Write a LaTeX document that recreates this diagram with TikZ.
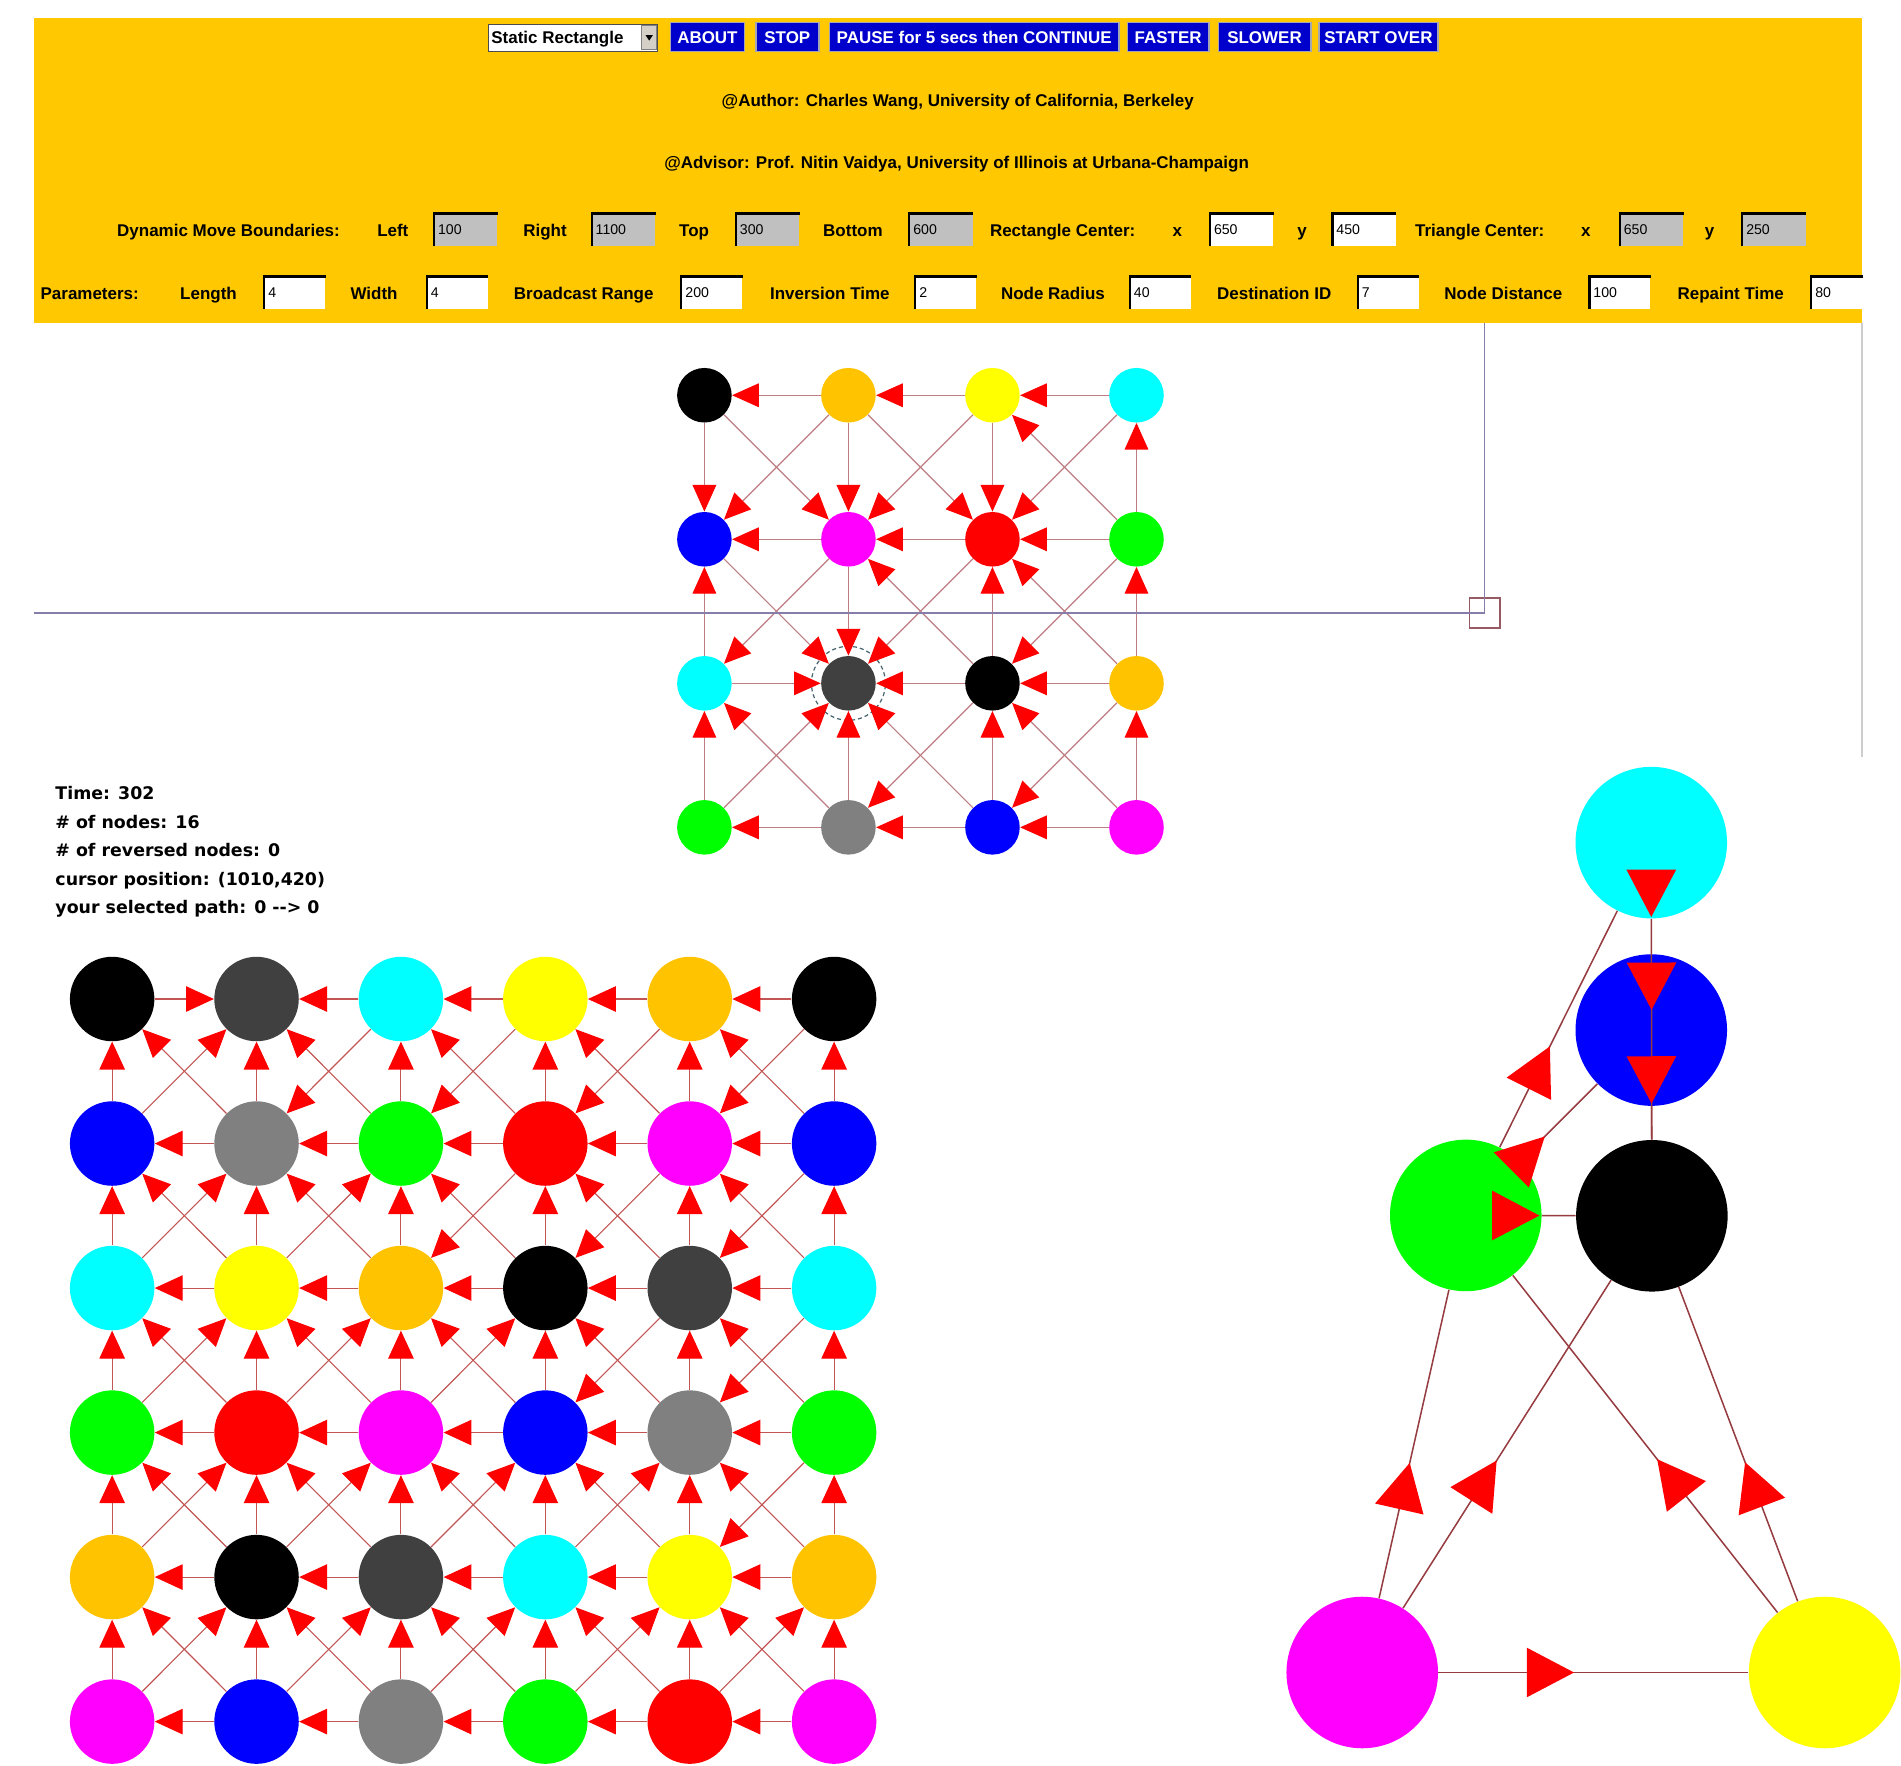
\documentclass[tikz,border=0pt]{standalone}
\usepackage{fontspec}
\setmainfont{Liberation Sans}
\newfontfamily\dvsans{DejaVu Sans}
\usetikzlibrary{arrows.meta,decorations.markings}
\definecolor{hdrbg}{RGB}{255,200,0}
\definecolor{nblack}{RGB}{0,0,0}
\definecolor{norange}{RGB}{255,195,0}
\definecolor{nyellow}{RGB}{255,255,0}
\definecolor{ncyan}{RGB}{0,255,255}
\definecolor{nblue}{RGB}{0,0,255}
\definecolor{nmagenta}{RGB}{255,0,255}
\definecolor{nred}{RGB}{255,0,0}
\definecolor{ngreen}{RGB}{0,255,0}
\definecolor{ndgray}{RGB}{64,64,64}
\definecolor{ngray}{RGB}{128,128,128}
\definecolor{btnblue}{RGB}{0,0,205}
\definecolor{btnedge}{RGB}{165,165,180}
\definecolor{fieldgray}{RGB}{192,192,192}
\definecolor{uedge}{RGB}{190,125,130}
\definecolor{ledge}{RGB}{195,85,85}
\definecolor{tedge}{RGB}{150,60,65}
\definecolor{crossc}{RGB}{135,125,170}
\definecolor{sqc}{RGB}{150,90,100}
\definecolor{borderc}{RGB}{205,205,205}
\definecolor{ringc}{RGB}{70,100,110}
\definecolor{ddarrbg}{RGB}{212,208,200}
\newcommand{\fld}[6]{%
  \node[fieldbox, fill=#4, text width=#6] (#1) at (#2,#3) {#5};
  \draw[fieldline] (#1.south west) -- (#1.north west) -- (#1.north east);
}
\begin{document}
\begin{tikzpicture}[x=0.6pt,y=-0.6pt,
  hfont/.style={font=\fontsize{8.4}{10}\selectfont\bfseries},
  lbl/.style={hfont, inner sep=0pt, text height=6pt, text depth=0pt},
  btn/.style={hfont, text=white, fill=btnblue, draw=btnedge, line width=0.9pt,
    minimum height=14.4pt, inner sep=0pt, text height=6pt, text depth=0pt},
  fieldbox/.style={font=\fontsize{7}{8}\selectfont, inner sep=1.8pt, align=left,
    minimum height=15.8pt, anchor=north west, text height=5pt, text depth=0pt},
  fieldline/.style={black, line width=1.1pt},
  stat/.style={font=\dvsans\bfseries\fontsize{8.6}{10}\selectfont, inner sep=0pt, anchor=base west},
  unode/.style={circle, minimum size=27pt, inner sep=0pt},
  lnode/.style={circle, minimum size=41.8pt, inner sep=0pt},
  tnode/.style={circle, minimum size=75pt, inner sep=0pt},
  uarr/.style={draw=uedge, line width=0.6pt, -{Triangle[length=13.2pt,width=11.7pt,color=red]}},
  larr/.style={draw=ledge, line width=0.55pt, -{Triangle[length=13.8pt,width=12.6pt,color=red]}},
  tarr/.style={draw=tedge, line width=0.75pt, postaction={decorate},
    decoration={markings, mark=at position 0.5 with {\fill[red] (-9.6pt,0pt) -- (-33pt,12.3pt) -- (-33pt,-12.3pt) -- cycle;}}},
  crossline/.style={crossc, line width=0.8pt}
]
\useasboundingbox (0,0) rectangle (1568,1456);
\fill[white] (0,0) rectangle (1568,1456);

% ---------- header ----------
\fill[hdrbg] (28,15) rectangle (1536,266);

\node[draw=black!70, fill=white, minimum width=83.5pt, minimum height=13.2pt, inner sep=0pt] (dd) at (472.4,31) {};
\node[lbl, anchor=west] (ddtext) at (405,31) {Static Rectangle};
\node[fill=ddarrbg, draw=gray, minimum width=7.5pt, minimum height=12pt, inner sep=0pt] (ddarr) at (535.5,31) {};
\fill[black] (532.5,29) -- (538.5,29) -- (535.5,33.5) -- cycle;

\node[btn, minimum width=36.6pt] (bAbout) at (583.5,30.5) {ABOUT};
\node[btn, minimum width=31pt] (bStop) at (649.4,30.5) {STOP};
\node[btn, minimum width=143.3pt] (bPause) at (803.6,30.5) {PAUSE for 5 secs then CONTINUE};
\node[btn, minimum width=40.2pt] (bFaster) at (963.5,30.5) {FASTER};
\node[btn, minimum width=45.6pt] (bSlower) at (1043,30.5) {SLOWER};
\node[btn, minimum width=58.8pt] (bStart) at (1137,30.5) {START OVER};

\node[lbl] (author) at (790,82.5) {@Author: Charles Wang, University of California, Berkeley};
\node[lbl] (advisor) at (789,134) {@Advisor: Prof. Nitin Vaidya, University of Illinois at Urbana-Champaign};

% dynamic move boundaries row
\node[lbl] (lDMB) at (188.5,190) {Dynamic Move Boundaries:};
\node[lbl] (lLeft) at (324,190) {Left};
\node[lbl] (lRight) at (449.5,190) {Right};
\node[lbl] (lTop) at (572.5,190) {Top};
\node[lbl] (lBottom) at (703.5,190) {Bottom};
\node[lbl] (lRC) at (876.5,190) {Rectangle Center:};
\node[lbl] (lRx) at (971,190) {x};
\node[lbl] (lRy) at (1074,190) {y};
\node[lbl] (lTC) at (1220.5,190) {Triangle Center:};
\node[lbl] (lTx) at (1308,190) {x};
\node[lbl] (lTy) at (1410,190) {y};
\fld{fLeft}{358}{176}{fieldgray}{100}{27.6pt}
\fld{fRight}{488}{176}{fieldgray}{1100}{27.6pt}
\fld{fTop}{607}{176}{fieldgray}{300}{27.6pt}
\fld{fBottom}{750}{176}{fieldgray}{600}{27.6pt}
\fld{fRx}{998}{176}{white}{650}{27.6pt}
\fld{fRy}{1099}{176}{white}{450}{27.6pt}
\fld{fTx}{1336}{176}{fieldgray}{650}{27.6pt}
\fld{fTy}{1437}{176}{fieldgray}{250}{27.6pt}

% parameters row
\node[lbl] (lPar) at (74,242) {Parameters:};
\node[lbl] (lLen) at (172,242) {Length};
\node[lbl] (lWid) at (308.5,242) {Width};
\node[lbl] (lBR) at (481.5,242) {Broadcast Range};
\node[lbl] (lIT) at (684.5,242) {Inversion Time};
\node[lbl] (lNR) at (868.5,242) {Node Radius};
\node[lbl] (lDID) at (1051,242) {Destination ID};
\node[lbl] (lND) at (1240,242) {Node Distance};
\node[lbl] (lRT) at (1427.5,242) {Repaint Time};
\fld{fLen}{218}{228}{white}{4}{26.4pt}
\fld{fWid}{352}{228}{white}{4}{26.4pt}
\fld{fBR}{562}{228}{white}{200}{26.4pt}
\fld{fIT}{755}{228}{white}{2}{26.4pt}
\fld{fNR}{932}{228}{white}{40}{26.4pt}
\fld{fDID}{1120}{228}{white}{7}{26.4pt}
\fld{fND}{1311}{228}{white}{100}{26.4pt}
\fld{fRT}{1494}{228}{white}{80}{21.6pt}

% ---------- upper canvas ----------
\coordinate (bordTop) at (1536,266);
\coordinate (bordBot) at (1536,624);
\draw[borderc, line width=1pt] (bordTop) -- (bordBot);

% upper 4x4 grid
\foreach \n/\x/\y/\col in {
  u11/581/326/nblack, u12/699.8/326/norange, u13/818.6/326/nyellow, u14/937.4/326/ncyan,
  u21/581/444.8/nblue, u22/699.8/444.8/nmagenta, u23/818.6/444.8/nred, u24/937.4/444.8/ngreen,
  u31/581/563.6/ncyan, u32/699.8/563.6/ndgray, u33/818.6/563.6/nblack, u34/937.4/563.6/norange,
  u41/581/682.4/ngreen, u42/699.8/682.4/ngray, u43/818.6/682.4/nblue, u44/937.4/682.4/nmagenta}
  {\node[unode, fill=\col] (\n) at (\x,\y) {};}
\node[circle, draw=ringc, dash pattern=on 2pt off 1.5pt, line width=0.6pt, minimum size=36.6pt, inner sep=0pt] (ring) at (u32) {};

\foreach \a/\b in {
  u12/u11, u13/u12, u14/u13, u22/u21, u23/u22, u24/u23, u31/u32, u33/u32, u34/u33, u42/u41, u43/u42, u44/u43,
  u11/u21, u12/u22, u13/u23, u24/u14, u31/u21, u22/u32, u33/u23, u34/u24, u41/u31, u42/u32, u43/u33, u44/u34,
  u11/u22, u12/u23, u24/u13, u21/u32, u33/u22, u34/u23, u42/u31, u43/u32, u44/u33,
  u12/u21, u13/u22, u14/u23, u22/u31, u23/u32, u24/u33, u41/u32, u33/u42, u34/u43}
  {\draw[uarr] (\a) -- (\b);}

% cursor cross
\node[draw=sqc, line width=0.8pt, minimum size=15pt, inner sep=0pt] (cursor) at (1224.5,505.5) {};
\coordinate (hstart) at (28,505.5);
\coordinate (vstart) at (1224.5,266);
\draw[crossline] (hstart) -- (cursor.center);
\draw[crossline] (vstart) -- (cursor.center);

% ---------- status text ----------
\node[stat] (s1) at (45.4,659.5) {Time: 302};
\node[stat] (s2) at (45.4,683) {\# of nodes: 16};
\node[stat] (s3) at (45.4,706.5) {\# of reversed nodes: 0};
\node[stat] (s4) at (45.4,730) {cursor position: (1010,420)};
\node[stat] (s5) at (45.4,753.5) {your selected path: 0 -{}-> 0};

% ---------- lower 6x6 grid ----------
\foreach \col [count=\c] in {nblack,ndgray,ncyan,nyellow,norange,nblack}
  {\node[lnode, fill=\col] (l1\c) at ({92.5+119.1*(\c-1)},824) {};}
\foreach \col [count=\c] in {nblue,ngray,ngreen,nred,nmagenta,nblue}
  {\node[lnode, fill=\col] (l2\c) at ({92.5+119.1*(\c-1)},943.2) {};}
\foreach \col [count=\c] in {ncyan,nyellow,norange,nblack,ndgray,ncyan}
  {\node[lnode, fill=\col] (l3\c) at ({92.5+119.1*(\c-1)},1062.4) {};}
\foreach \col [count=\c] in {ngreen,nred,nmagenta,nblue,ngray,ngreen}
  {\node[lnode, fill=\col] (l4\c) at ({92.5+119.1*(\c-1)},1181.6) {};}
\foreach \col [count=\c] in {norange,nblack,ndgray,ncyan,nyellow,norange}
  {\node[lnode, fill=\col] (l5\c) at ({92.5+119.1*(\c-1)},1300.8) {};}
\foreach \col [count=\c] in {nmagenta,nblue,ngray,ngreen,nred,nmagenta}
  {\node[lnode, fill=\col] (l6\c) at ({92.5+119.1*(\c-1)},1420) {};}

\foreach \r in {1,...,6} {
  \foreach \c [evaluate=\c as \cn using int(\c+1)] in {1,...,5} {
    \ifnum\r\c=11 \draw[larr] (l\r\c) -- (l\r\cn); \else \draw[larr] (l\r\cn) -- (l\r\c); \fi
  }
}
\foreach \r [evaluate=\r as \rn using int(\r+1)] in {1,...,5} {
  \foreach \c in {1,...,6} { \draw[larr] (l\rn\c) -- (l\r\c); }
}
\foreach \r [evaluate=\r as \rn using int(\r+1)] in {1,...,5} {
  \foreach \c [evaluate=\c as \cn using int(\c+1)] in {1,...,5} {
    \draw[larr] (l\rn\cn) -- (l\r\c);
    \ifnum\c>\r \draw[larr] (l\r\cn) -- (l\rn\c); \else \draw[larr] (l\rn\c) -- (l\r\cn); \fi
  }
}

% ---------- triangle graph ----------
\node[tnode, fill=ncyan] (tC) at (1362,695) {};
\node[tnode, fill=nblue] (tB) at (1362,849.6) {};
\node[tnode, fill=nblack] (tK) at (1362.5,1002.8) {};
\node[tnode, fill=ngreen] (tG) at (1209,1002.5) {};
\node[tnode, fill=nmagenta] (tM) at (1123.6,1379.5) {};
\node[tnode, fill=nyellow] (tY) at (1505,1379.5) {};
\foreach \a/\b in {tC/tK, tC/tB, tB/tK, tG/tK, tG/tC, tG/tB, tM/tG, tM/tK, tY/tG, tY/tK, tM/tY}
  {\draw[tarr] (\a) -- (\b);}
\end{tikzpicture}
\end{document}
